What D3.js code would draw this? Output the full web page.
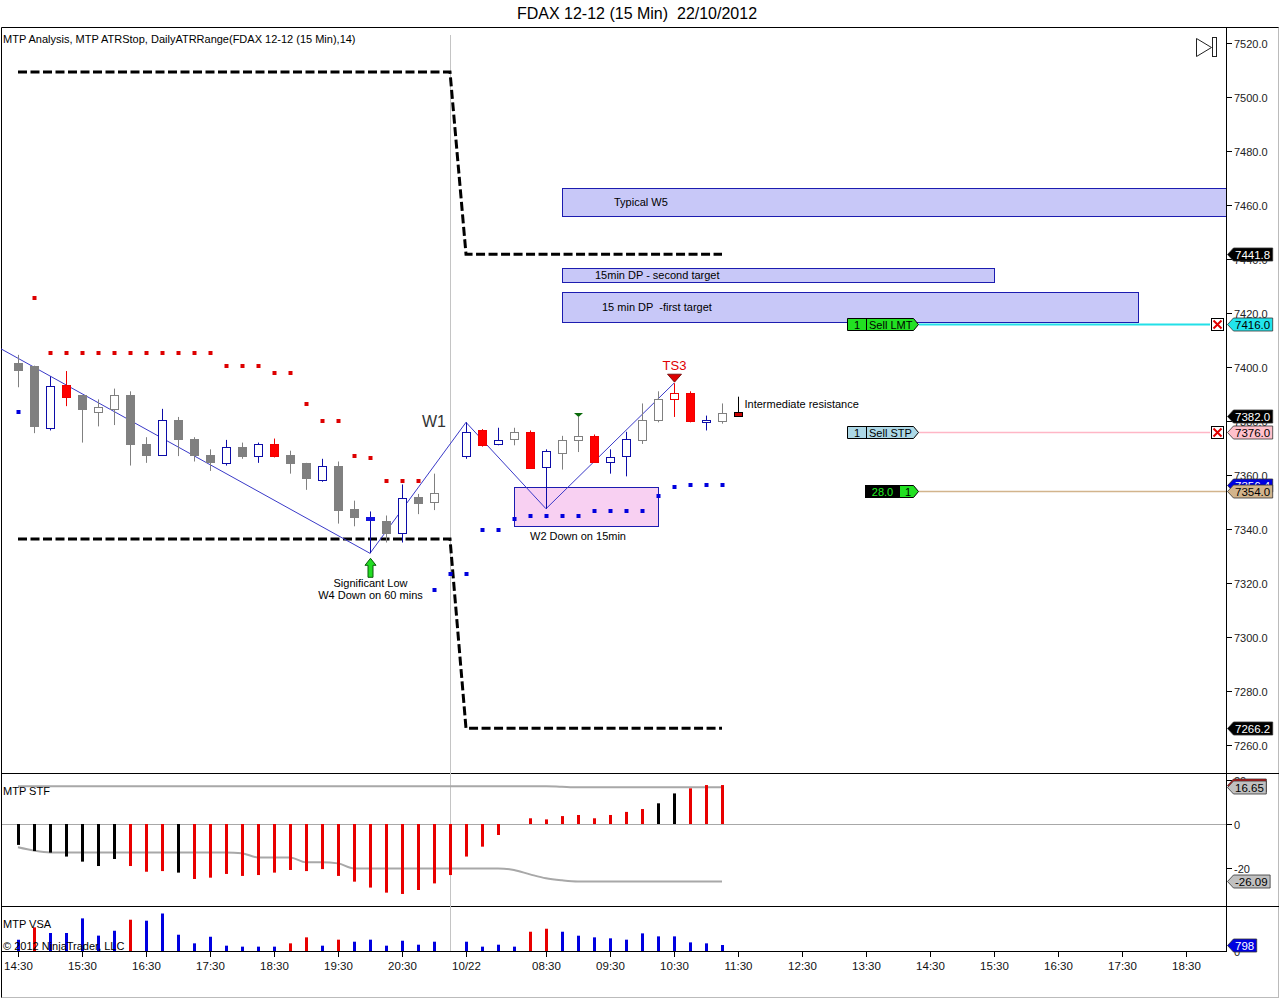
<!DOCTYPE html>
<html><head><meta charset="utf-8">
<script src="https://cdn.jsdelivr.net/npm/d3@7"></script>
<style>
body{margin:0;background:#fff}
svg{display:block}
text{font-family:"Liberation Sans",Arial,Helvetica,sans-serif}
</style>
</head><body>
<svg id="c" width="1280" height="999"></svg>
<script>
// ===================== DATA =====================
const chartTitle = "FDAX 12-12 (15 Min)  22/10/2012";
const headerText = "MTP Analysis, MTP ATRStop, DailyATRRange(FDAX 12-12 (15 Min),14)";

// x-axis tick bars & labels
const timeTickBars   = [0,4,8,12,16,20,24,28,33,37,41,45,49,53,57,61,65,69,73];
const timeTickLabels = ["14:30","15:30","16:30","17:30","18:30","19:30","20:30","10/22","08:30","09:30","10:30","11:30","12:30","13:30","14:30","15:30","16:30","17:30","18:30"];
const sessionBreakBar = 27;

// price ticks
const priceTicks = [7260,7280,7300,7320,7340,7360,7380,7400,7420,7440,7460,7480,7500,7520];
const stfTicks = [20,0,-20];

// OHLC (46 bars, 15 min)
const opens  = [7401.5,7400.5,7377.5,7393.5,7389.5,7383.5,7384.5,7389.5,7371.5,7367.5,7380.5,7373.5,7367.5,7364.5,7370.5,7367.0,7371.5,7367.5,7364.5,7358.0,7363.5,7347.5,7344.5,7343.0,7338.5,7352.0,7350.0,7354.5,7367.0,7376.5,7371.5,7373.5,7376.0,7363.0,7368.0,7373.0,7374.5,7365.0,7367.0,7373.0,7380.5,7388.0,7390.5,7379.5,7380.0,7383.5];
const highs  = [7404.5,7400.5,7396.5,7398.5,7389.5,7388.0,7392.0,7391.0,7374.0,7384.5,7381.5,7374.0,7369.5,7373.0,7372.0,7372.0,7373.5,7369.0,7364.5,7366.0,7365.0,7350.5,7346.5,7345.0,7356.5,7353.0,7360.5,7354.5,7379.5,7377.0,7377.5,7377.5,7376.5,7369.5,7374.5,7381.5,7375.0,7369.5,7376.0,7386.5,7391.0,7394.0,7391.0,7382.0,7386.5,7389.0];
const lows   = [7392.5,7375.5,7376.5,7385.5,7372.0,7378.0,7378.5,7363.5,7364.5,7367.5,7367.0,7365.0,7361.5,7363.5,7366.0,7364.5,7366.5,7360.5,7354.5,7357.5,7342.0,7341.0,7331.0,7335.0,7335.0,7345.5,7347.0,7354.5,7366.0,7370.5,7371.0,7371.0,7362.5,7347.5,7362.0,7368.5,7364.5,7360.5,7359.5,7371.5,7379.5,7381.5,7379.5,7376.5,7379.0,7382.0];
const closes = [7399.0,7378.0,7393.0,7389.0,7384.5,7385.0,7389.5,7371.5,7367.5,7380.5,7373.5,7367.5,7365.0,7370.5,7367.0,7371.5,7367.0,7364.5,7359.0,7363.5,7347.0,7344.5,7343.5,7338.5,7351.5,7349.5,7353.5,7354.5,7376.0,7371.0,7373.0,7376.0,7362.5,7369.0,7373.0,7374.5,7365.0,7366.5,7373.5,7380.5,7388.0,7390.5,7380.0,7380.5,7383.0,7382.0];
// candle colouring category from the MTP painter
const candleKind = ["g","g","bh","r","g","gh","gh","g","g","bh","g","g","g","bh","g","bh","r","g","g","bh","g","g","bf","g","bh","g","gh","gh","bh","r","bh","gh","r","bh","gh","gh","r","bh","bh","gh","gh","rh","r","bh","gh","dr"];

// MTP ATRStop dots
const atrStopRed = [null,7425.6,7405.3,7405.3,7405.3,7405.3,7405.3,7405.3,7405.3,7405.3,7405.3,7405.3,7405.3,7400.4,7400.4,7400.4,7397.9,7397.9,7386.4,7380.1,7380.1,7367.1,7366.4,7357.9,7357.9,7357.9,null,null,null,null,null,null,null,null,null,null,null,null,null,null,null,null,null,null,null,null];
const atrStopBlue = [7383.4,null,null,null,null,null,null,null,null,null,null,null,null,null,null,null,null,null,null,null,null,null,null,null,null,null,7317.4,7323.3,7323.3,7339.6,7339.6,7343.7,7344.9,7344.9,7344.9,7344.9,7346.8,7346.8,7346.8,7346.8,7352.3,7355.7,7356.4,7356.4,7356.4,null];

// DailyATRRange
const atrRangeTop    = [7509.3,7509.3,7509.3,7509.3,7509.3,7509.3,7509.3,7509.3,7509.3,7509.3,7509.3,7509.3,7509.3,7509.3,7509.3,7509.3,7509.3,7509.3,7509.3,7509.3,7509.3,7509.3,7509.3,7509.3,7509.3,7509.3,7509.3,7509.3,7441.8,7441.8,7441.8,7441.8,7441.8,7441.8,7441.8,7441.8,7441.8,7441.8,7441.8,7441.8,7441.8,7441.8,7441.8,7441.8,7441.8];
const atrRangeBottom = [7336.3,7336.3,7336.3,7336.3,7336.3,7336.3,7336.3,7336.3,7336.3,7336.3,7336.3,7336.3,7336.3,7336.3,7336.3,7336.3,7336.3,7336.3,7336.3,7336.3,7336.3,7336.3,7336.3,7336.3,7336.3,7336.3,7336.3,7336.3,7266.2,7266.2,7266.2,7266.2,7266.2,7266.2,7266.2,7266.2,7266.2,7266.2,7266.2,7266.2,7266.2,7266.2,7266.2,7266.2,7266.2];

// zigzag wave line
const zigzagBars   = [-2,22,28,33,41];
const zigzagPrices = [7409.8,7331.0,7379.5,7347.5,7394.0];

// projection boxes
const boxLabels  = ["Typical W5","15min DP - second target","15 min DP  -first target","W2 Down on 15min"];
const boxStart   = [34,34,34,31];
const boxEnd     = [75.6,61,70,40];
const boxTop     = [7466.2,7436.7,7427.8,7355.4];
const boxBottom  = [7456.0,7431.5,7416.7,7341.1];

// MTP STF
const stfValues = [-9.5,-12.3,-13.0,-14.8,-17.1,-19.1,-15.9,-19.1,-21.7,-21.4,-22.1,-25.0,-24.4,-22.7,-23.6,-23.2,-22.1,-20.9,-21.4,-20.5,-23.6,-26.2,-28.9,-31.2,-31.8,-30.0,-27.0,-23.2,-14.8,-10.3,-5.0,0,2.6,2.1,3.6,4.1,2.6,4.1,5.5,6.8,9.4,13.9,16.2,17.7,17.7];
const stfColor  = ["k","k","k","k","k","k","k","r","r","r","k","r","r","r","r","r","r","r","r","r","r","r","r","r","r","r","r","r","r","r","r","r","r","r","r","r","r","r","r","r","k","k","r","r","r"];
const stfUpper  = [17.2,17.2,17.2,17.2,17.2,17.2,17.2,17.2,17.2,17.2,17.2,17.2,17.2,17.2,17.2,17.2,17.2,17.2,17.2,17.2,17.2,17.2,17.2,17.2,17.2,17.2,17.2,17.2,17.2,17.2,17.2,17.2,17.2,17.2,16.9,16.65,16.65,16.65,16.65,16.65,16.65,16.65,16.65,16.65,16.65];
const stfLower  = [-10.6,-12.1,-12.9,-12.9,-12.9,-12.9,-12.9,-12.9,-12.9,-12.9,-12.9,-12.9,-12.9,-12.9,-13.3,-15.2,-15.2,-15.2,-17.4,-17.4,-17.9,-20.2,-20.2,-20.2,-20.2,-20.2,-20.2,-20.2,-20.2,-20.2,-20.2,-20.9,-22.9,-24.7,-25.6,-26.09,-26.09,-26.09,-26.09,-26.09,-26.09,-26.09,-26.09,-26.09,-26.09];

// MTP VSA volume
const vsaValues = [1500,3150,2400,2400,4350,2050,2700,4170,4040,5000,2170,1020,1900,710,580,580,580,1020,1820,710,1510,1240,1510,710,1370,840,1240,null,1240,580,840,580,2570,2970,2570,2040,1820,1690,1510,2350,1950,1950,1150,1020,798];
const vsaColor  = ["b","r","b","b","b","b","b","r","b","b","b","b","b","b","b","b","b","r","r","b","r","b","b","b","b","b","b","b","b","b","b","b","r","r","b","b","b","b","b","b","b","b","b","b","b"];

// orders / position
const orderPrices = [7416.0, 7376.0, 7354.0];
const orderQty    = ["1","1","1"];
const orderNames  = ["Sell LMT","Sell STP",""];
const positionPnL = "28.0";
const lastPrice   = 7382.0;

// ===================== SCALES =====================
const svg = d3.select("#c");
const PL = 1, PR = 1226, PT = 27, MB = 773, SB = 906, VB = 951.5;
const x  = d3.scaleLinear().domain([0,73]).range([18,1186]);
const yP = d3.scaleLinear().domain([7260,7520]).range([745,43]);
const yS = d3.scaleLinear().domain([-20,20]).range([868,780]);
const yV = d3.scaleLinear().domain([0,6000]).range([951,906]);
const cx = i => Math.round(x(i)) + 0.5;

const defs = svg.append("defs");
defs.append("clipPath").attr("id","cm").append("rect").attr("x",PL).attr("y",PT).attr("width",PR-PL).attr("height",MB-PT);
defs.append("clipPath").attr("id","cs").append("rect").attr("x",PL).attr("y",MB).attr("width",PR-PL).attr("height",SB-MB);

// ===================== FRAME =====================
svg.append("text").attr("x",637).attr("y",19).attr("text-anchor","middle").attr("font-size",16)
  .style("white-space","pre").attr("fill","#000").text(chartTitle);

const frame = svg.append("g").attr("stroke","#000").attr("stroke-width",1).attr("fill","none");
frame.append("line").attr("x1",1.5).attr("x2",1279).attr("y1",27.5).attr("y2",27.5);
frame.append("line").attr("x1",1.5).attr("x2",1.5).attr("y1",27.5).attr("y2",998);
frame.append("line").attr("x1",1278.5).attr("x2",1278.5).attr("y1",27.5).attr("y2",998).attr("stroke","#bbb");
frame.append("line").attr("x1",1.5).attr("x2",1279).attr("y1",997.5).attr("y2",997.5).attr("stroke","#bbb");
frame.append("line").attr("x1",1.5).attr("x2",1279).attr("y1",773.5).attr("y2",773.5);
frame.append("line").attr("x1",1.5).attr("x2",1279).attr("y1",906.5).attr("y2",906.5);
frame.append("line").attr("x1",PR+0.5).attr("x2",PR+0.5).attr("y1",27.5).attr("y2",952);
frame.append("line").attr("x1",1.5).attr("x2",PR+0.5).attr("y1",951.5).attr("y2",951.5);

// session break
svg.append("line").attr("x1",cx(sessionBreakBar)).attr("x2",cx(sessionBreakBar)).attr("y1",35).attr("y2",951)
  .attr("stroke","#c4c4c4").attr("stroke-width",1);
// STF zero line
svg.append("line").attr("x1",2).attr("x2",PR).attr("y1",Math.round(yS(0))+0.5).attr("y2",Math.round(yS(0))+0.5)
  .attr("stroke","#a8a8a8");

// ===================== X AXIS =====================
const xa = svg.append("g");
timeTickBars.forEach((b,k)=>{
  xa.append("line").attr("x1",cx(b)).attr("x2",cx(b)).attr("y1",952).attr("y2",957).attr("stroke","#000");
  xa.append("text").attr("x",cx(b)).attr("y",970).attr("text-anchor","middle").attr("font-size",11.5).attr("fill","#111").text(timeTickLabels[k]);
});

// ===================== PRICE AXIS =====================
const pa = svg.append("g");
priceTicks.forEach(p=>{
  const yy = Math.round(yP(p))+0.5;
  pa.append("line").attr("x1",PR).attr("x2",PR+6).attr("y1",yy).attr("y2",yy).attr("stroke","#000");
  pa.append("text").attr("x",PR+8).attr("y",yy+4).attr("font-size",11).attr("fill","#222").text(p.toFixed(1));
});
stfTicks.forEach(v=>{
  const yy = Math.round(yS(v))+0.5;
  pa.append("line").attr("x1",PR).attr("x2",PR+6).attr("y1",yy).attr("y2",yy).attr("stroke","#000");
  pa.append("text").attr("x",PR+8).attr("y",yy+4).attr("font-size",11).attr("fill","#222").text(v);
});
{
  const yy = Math.round(yV(0))+0.5;
  pa.append("text").attr("x",PR+8).attr("y",yy+4).attr("font-size",11).attr("fill","#222").text("0");
}

// ===================== MAIN PANEL =====================
const gm = svg.append("g").attr("clip-path","url(#cm)");

// projection boxes (behind)
const boxFill = ["#c8c8f8","#c8c8f8","#c8c8f8","#f8d0f2"];
const boxTextPos = [[52,"start",4],[33,"start",4],[40,"start",4],[null,"middle",14]];
boxLabels.forEach((lab,k)=>{
  const x0 = Math.round(x(boxStart[k]))+0.5, x1 = Math.round(x(boxEnd[k]))+0.5;
  const y0 = Math.round(yP(boxTop[k]))+0.5, y1 = Math.round(yP(boxBottom[k]))+0.5;
  gm.append("rect").attr("x",x0).attr("y",y0).attr("width",x1-x0).attr("height",y1-y0)
    .attr("fill",boxFill[k]).attr("stroke","#1c1cb0").attr("stroke-width",1);
});

// DailyATRRange dashed lines
const dline = d3.line().x((d,i)=>x(i)).y(d=>yP(d));
[atrRangeTop, atrRangeBottom].forEach(arr=>{
  gm.append("path").attr("d",dline(arr)).attr("fill","none").attr("stroke","#000")
    .attr("stroke-width",3).attr("stroke-dasharray","9,3.5");
});

// zigzag
gm.append("path").attr("d", d3.line().x(d=>x(d[0])).y(d=>yP(d[1]))(zigzagBars.map((b,k)=>[b,zigzagPrices[k]])))
  .attr("fill","none").attr("stroke","#3a3ac8").attr("stroke-width",1);

// ATR stop dots
const dotG = gm.append("g");
dotG.selectAll(".rd").data(atrStopRed.map((v,i)=>[i,v]).filter(d=>d[1]!=null)).join("rect")
  .attr("x",d=>Math.round(x(d[0]))-1.5).attr("y",d=>Math.round(yP(d[1]))-2).attr("width",4).attr("height",4).attr("fill","#dd0000");
dotG.selectAll(".bd").data(atrStopBlue.map((v,i)=>[i,v]).filter(d=>d[1]!=null)).join("rect")
  .attr("x",d=>Math.round(x(d[0]))-1.5).attr("y",d=>Math.round(yP(d[1]))-2).attr("width",4).attr("height",4).attr("fill","#0000dd");

// candles
const kinds = {
  g:  {fill:"#808080", stroke:"#808080", wick:"#808080"},
  gh: {fill:"#ffffff", stroke:"#808080", wick:"#808080"},
  bh: {fill:"#ffffff", stroke:"#0c0ca8", wick:"#0c0ca8"},
  bf: {fill:"#1414e0", stroke:"#1414e0", wick:"#0c0ca8"},
  r:  {fill:"#ff0000", stroke:"#ee0000", wick:"#ee0000"},
  rh: {fill:"#ffffff", stroke:"#ee0000", wick:"#ee0000"},
  dr: {fill:"#cc0000", stroke:"#000000", wick:"#000000"}
};
const cg = gm.append("g");
const idx = d3.range(opens.length);
cg.selectAll(".wick").data(idx).join("line")
  .attr("x1",i=>cx(i)).attr("x2",i=>cx(i)).attr("y1",i=>yP(highs[i])).attr("y2",i=>yP(lows[i]))
  .attr("stroke",i=>kinds[candleKind[i]].wick).attr("stroke-width",1);
cg.selectAll(".body").data(idx).join("rect")
  .attr("x",i=>cx(i)-4).attr("width",8)
  .attr("y",i=>Math.round(yP(Math.max(opens[i],closes[i])))+0.5)
  .attr("height",i=>Math.max(0,Math.round(yP(Math.min(opens[i],closes[i])))-Math.round(yP(Math.max(opens[i],closes[i])))))
  .attr("fill",i=>kinds[candleKind[i]].fill).attr("stroke",i=>kinds[candleKind[i]].stroke).attr("stroke-width",1);

// box labels
boxLabels.forEach((lab,k)=>{
  const x0 = x(boxStart[k]);
  const y0 = yP(boxTop[k]), y1 = yP(boxBottom[k]);
  const t = boxTextPos[k];
  if (k < 3) {
    gm.append("text").attr("x",x0+t[0]).attr("y",(y0+y1)/2+t[2]).attr("font-size",11).attr("fill","#000")
      .style("white-space","pre").text(lab);
  } else {
    gm.append("text").attr("x",x(35)).attr("y",y1+t[2]).attr("text-anchor","middle").attr("font-size",11).attr("fill","#000").text(lab);
  }
});

// annotations
const an = svg.append("g");
an.append("text").attr("x",x(28)-44).attr("y",yP(zigzagPrices[2])+5).attr("font-size",16).attr("fill","#333").text("W1");
an.append("text").attr("x",cx(41)).attr("y",yP(highs[41])-13).attr("text-anchor","middle").attr("font-size",13).attr("fill","#e00000").text("TS3");
{
  const tx = cx(41), ty = yP(highs[41]) - 9;
  an.append("path").attr("d",`M${tx-7},${ty} L${tx+7},${ty} L${tx},${ty+8} Z`).attr("fill","#dd0000").attr("stroke","#600").attr("stroke-width",0.8);
  const gx = cx(35), gy = yP(highs[35]) - 4;
  an.append("path").attr("d",`M${gx-4.5},${gy} L${gx+4.5},${gy} L${gx},${gy+4} Z`).attr("fill","#0a6a0a");
}
// significant low arrow
{
  const ax = cx(22), ay = yP(lows[22]) + 5;
  an.append("path").attr("d",`M${ax},${ay} L${ax+5.5},${ay+7} L${ax+2.5},${ay+7} L${ax+2.5},${ay+19} L${ax-2.5},${ay+19} L${ax-2.5},${ay+7} L${ax-5.5},${ay+7} Z`)
    .attr("fill","#22dd22").attr("stroke","#0a5a0a").attr("stroke-width",1);
  an.append("text").attr("x",ax).attr("y",ay+29).attr("text-anchor","middle").attr("font-size",11).attr("fill","#000").text("Significant Low");
  an.append("text").attr("x",ax).attr("y",ay+41).attr("text-anchor","middle").attr("font-size",11).attr("fill","#000").text("W4 Down on 60 mins");
}
an.append("text").attr("x",cx(45)+6).attr("y",yP(highs[45])+11).attr("font-size",11).attr("fill","#000").text("Intermediate resistance");
an.append("text").attr("x",3).attr("y",43).attr("font-size",11).attr("fill","#000").text(headerText);
// play-to-end icon
an.append("path").attr("d","M1196.5,38.5 L1211.5,47.5 L1196.5,56.5 Z").attr("fill","#fff").attr("stroke","#222");
an.append("rect").attr("x",1212.5).attr("y",37.5).attr("width",4).attr("height",19).attr("fill","#fff").attr("stroke","#222");

// order lines
const ordLineCol = ["#22e0e8","#ffb6c6","#d2b48c"];
const ordFill    = ["#22e022","#add8e6",null];
orderPrices.forEach((p,k)=>{
  const yy = Math.round(yP(p))+0.5;
  const xEnd = k<2 ? 1210 : PR;
  svg.append("line").attr("x1",919).attr("x2",xEnd).attr("y1",yy).attr("y2",yy).attr("stroke",ordLineCol[k]).attr("stroke-width",k===0?2:1.5);
  if (k<2) {
    svg.append("path").attr("d",`M847.5,${yy-6} H913.5 L918.5,${yy} L913.5,${yy+6} H847.5 Z`).attr("fill",ordFill[k]).attr("stroke","#000");
    svg.append("line").attr("x1",866.5).attr("x2",866.5).attr("y1",yy-6).attr("y2",yy+6).attr("stroke","#000");
    svg.append("text").attr("x",857).attr("y",yy+4).attr("text-anchor","middle").attr("font-size",11).text(orderQty[k]);
    svg.append("text").attr("x",869).attr("y",yy+4).attr("font-size",11).text(orderNames[k]);
    // cancel box
    svg.append("rect").attr("x",1211.5).attr("y",yy-6).attr("width",12).attr("height",12).attr("fill","#fff").attr("stroke","#000");
    svg.append("path").attr("d",`M1213.5,${yy-4} L1221.5,${yy+4} M1221.5,${yy-4} L1213.5,${yy+4}`).attr("stroke","#e00000").attr("stroke-width",2);
  } else {
    svg.append("rect").attr("x",865.5).attr("y",yy-6).attr("width",34).attr("height",12).attr("fill","#000").attr("stroke","#000");
    svg.append("text").attr("x",882.5).attr("y",yy+4).attr("text-anchor","middle").attr("font-size",11).attr("fill","#22ee22").text(positionPnL);
    svg.append("path").attr("d",`M899.5,${yy-6} H913.5 L918.5,${yy} L913.5,${yy+6} H899.5 Z`).attr("fill","#22e022").attr("stroke","#000");
    svg.append("text").attr("x",908).attr("y",yy+4).attr("text-anchor","middle").attr("font-size",11).text(orderQty[k]);
  }
});

// ===================== STF PANEL =====================
const gs = svg.append("g").attr("clip-path","url(#cs)");
const sl = d3.line().x((d,i)=>x(i)).y(d=>yS(d)).curve(d3.curveMonotoneX);
gs.append("path").attr("d",sl(stfUpper)).attr("fill","none").attr("stroke","#a8a8a8").attr("stroke-width",2);
gs.append("path").attr("d",sl(stfLower)).attr("fill","none").attr("stroke","#a8a8a8").attr("stroke-width",2);
gs.selectAll(".sb").data(stfValues.map((v,i)=>[i,v])).join("rect")
  .attr("x",d=>Math.round(x(d[0]))-1).attr("width",3)
  .attr("y",d=>Math.min(yS(d[1]),yS(0))).attr("height",d=>Math.abs(yS(d[1])-yS(0)))
  .attr("fill",d=>stfColor[d[0]]==="k"?"#000":"#e80000");
svg.append("text").attr("x",3).attr("y",795).attr("font-size",11).attr("fill","#000").text("MTP STF");

// ===================== VSA PANEL =====================
const gv = svg.append("g");
gv.selectAll(".vb").data(vsaValues.map((v,i)=>[i,v]).filter(d=>d[1]!=null)).join("rect")
  .attr("x",d=>Math.round(x(d[0]))-1).attr("width",3)
  .attr("y",d=>yV(d[1])).attr("height",d=>yV(0)-yV(d[1]))
  .attr("fill",d=>vsaColor[d[0]]==="r"?"#e80000":"#0000e0");
svg.append("text").attr("x",3).attr("y",928).attr("font-size",11).attr("fill","#000").text("MTP VSA");
svg.append("text").attr("x",3).attr("y",950).attr("font-size",11).attr("fill","#000").text("\u00a9 2012 NinjaTrader, LLC");

// ===================== AXIS FLAGS =====================
function flag(yv, label, fill, tcol){
  const g = svg.append("g");
  const yy = Math.round(yv)+0.5;
  const t = g.append("text").attr("x",PR+9).attr("y",yy+4).attr("font-size",11.5).attr("fill",tcol).text(label);
  const w = t.node().getComputedTextLength();
  g.insert("path","text").attr("d",`M${PR+1.5},${yy} L${PR+7.5},${yy-6.5} H${PR+10+w+1.5} V${yy+6.5} H${PR+7.5} Z`)
    .attr("fill",fill).attr("stroke","#333").attr("stroke-width",0.8);
}
flag(yP(atrRangeTop[44]), atrRangeTop[44].toFixed(1), "#000", "#fff");
flag(yP(atrRangeBottom[44]), atrRangeBottom[44].toFixed(1), "#000", "#fff");
flag(yP(orderPrices[0]), orderPrices[0].toFixed(1), "#22e4ec", "#000");
flag(yP(lastPrice), lastPrice.toFixed(1), "#000", "#fff");
flag(yP(orderPrices[1]), orderPrices[1].toFixed(1), "#ffc0cb", "#000");
flag(yP(atrStopBlue[44]), atrStopBlue[44].toFixed(1), "#0000e0", "#fff");
flag(yP(orderPrices[2]), orderPrices[2].toFixed(1), "#d2b48c", "#000");
flag(yS(stfValues[44]), stfValues[44].toFixed(2), "#cc1010", "#fff");
flag(yS(stfUpper[44]), stfUpper[44].toFixed(2), "#c0c0c0", "#000");
flag(yS(stfLower[44]), stfLower[44].toFixed(2), "#c0c0c0", "#000");
flag(yV(vsaValues[44]), String(vsaValues[44]), "#0000e0", "#fff");
</script>
</body></html>
